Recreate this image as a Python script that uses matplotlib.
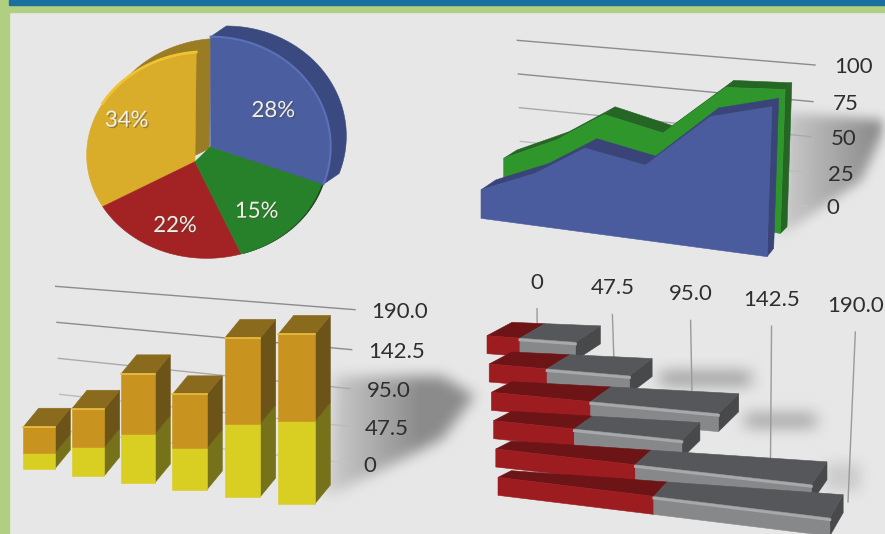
import numpy as np
import matplotlib
matplotlib.use("Agg")
import matplotlib.pyplot as plt
import matplotlib.patheffects as pe
from matplotlib.path import Path
from matplotlib.transforms import Affine2D

plt.rcParams["font.family"] = ["Lato", "DejaVu Sans"]

W, H = 885, 534

# data
pie_labels = ["34%", "22%", "15%", "28%"]
pie_values = [34, 22, 15, 28]
area_x = [0, 0.95, 1.80, 2.85, 3.95, 5]
area_blue = [19, 35, 56, 50, 88, 100]
area_green = [20, 38, 60, 54, 91, 96]
area_ticks = ["0", "25", "50", "75", "100"]
col_yellow = [20, 35, 58, 48, 82, 90]
col_orange = [33, 47, 72, 62, 96, 95]
bar_red = [19, 33, 56, 45, 77, 85]
bar_grey = [32, 47, 72, 60, 97, 96]
stack_ticks = ["0", "47.5", "95.0", "142.5", "190.0"]

fig = plt.figure(figsize=(W / 100, H / 100), dpi=100)
ax = fig.add_axes([0, 0, 1, 1])


def soft_polygon(pts, blur):
    # polygon mask on the pixel grid, box blurred three times
    yy, xx = np.mgrid[0:H, 0:W]
    grid = np.column_stack([xx.ravel(), yy.ravel()])
    mask = Path(pts).contains_points(grid).reshape(H, W).astype(float)
    kernel = np.ones(blur) / blur
    for _ in range(3):
        mask = np.apply_along_axis(lambda r: np.convolve(r, kernel, "same"), 1, mask)
        mask = np.apply_along_axis(lambda r: np.convolve(r, kernel, "same"), 0, mask)
    return mask


# background with the soft shadows baked in
xramp = np.arange(W)[None, :]
ramp1 = np.clip((xramp - 740) / 130, 0.35, 1)
ramp2 = np.clip((xramp - 290) / 130, 0.35, 1)
shade = 0.38 * ramp1 * soft_polygon([(785, 112), (888, 120), (860, 180), (780, 235)], 11)
shade += 0.40 * ramp2 * soft_polygon([(333, 375), (442, 376), (474, 395), (442, 438), (325, 497)], 13)
shade += 0.42 * soft_polygon([(660, 372), (750, 372), (750, 383), (660, 383)], 15)
shade += 0.38 * soft_polygon([(745, 414), (815, 414), (815, 425), (745, 425)], 15)
shade += 0.12 * soft_polygon([(825, 462), (860, 462), (860, 490), (825, 490)], 13)
bg = 0.905 * (1 - shade)
ax.imshow(bg, cmap="gray", vmin=0, vmax=1, extent=(0, W, H, 0), aspect="auto", zorder=0)
ax.fill([0, 9, 9, 0], [0, 0, H, H], color="#b0cf80", zorder=1)
ax.fill([9, W, W, 9], [0, 0, 12, 12], color="#b0cf80", zorder=1)
ax.fill([9, W, W, 9], [0, 0, 4.5, 4.5], color="#1b6f9e", zorder=1)

# each panel is drawn in its own 3x coordinates
tl = Affine2D().scale(1 / 3) + ax.transData
tr = Affine2D().scale(1 / 3).translate(442, 0) + ax.transData
bl = Affine2D().scale(1 / 3).translate(0, 267) + ax.transData
br = Affine2D().scale(1 / 3).translate(442, 267) + ax.transData


def poly(pts, color, tf, z=3):
    pts = np.asarray(pts)
    ax.fill(pts[:, 0], pts[:, 1], color=color, transform=tf, zorder=z, lw=0.4)


def tick(x, y, s, tf, **kw):
    ax.text(x, y, s, transform=tf, fontsize=16, color="#2e2e2e", va="center", zorder=6, **kw)


# pie
CX, CY, RX, RY = 620, 465, 360, 310
APEX = np.array([585, 485])


def arc(t0, t1, cx=CX, cy=CY, rx=RX, ry=RY):
    t = np.radians(np.linspace(t0, t1, 60))
    return np.column_stack([cx + rx * np.sin(t), cy - ry * np.cos(t)])


def wedge_pts(t0, t1):
    return np.vstack([APEX, arc(t0, t1)])


# slices are foreshortened by the tilt of the pie
tilt = np.array([0.93, 0.96, 1.06, 1.06])
shares = 360 * np.array(pie_values) / sum(pie_values) * tilt
t_end = -5 - np.cumsum(shares)
t_start = np.r_[-5, t_end[:-1]]
b_apex = np.array([632, 440])

# yellow back wall, then the front faces
pd = np.array([44, -40])
poly(wedge_pts(t_start[0], t_end[0]) + pd, "#9a7c24", tl)
poly(wedge_pts(t_start[0], t_end[0]), "#d9ac2a", tl, 4)
y_arc = arc(t_start[0], t_start[0] - 55)
ax.plot(y_arc[:, 0], y_arc[:, 1], color="#eec433", lw=2, transform=tl, zorder=4)
poly(wedge_pts(t_start[1], t_end[1]), "#a32224", tl, 4)
poly(arc(t_start[2], t_end[2]) + [5, -1], "#173a17", tl, 3)
poly(np.vstack([wedge_pts(t_start[2], t_end[2]), b_apex]), "#27812a", tl, 4)

# blue slice is pulled out and extruded
b_arc = arc(0, shares[3] + 2, 632, 440, 360, 330)
b_face = np.vstack([b_apex, b_arc])
side = np.vstack([b_arc, (b_arc + [47, -32])[::-1]])
poly(side, "#3a4a80", tl, 5)
poly(b_face, "#4a5ea0", tl, 5)
ax.plot(b_arc[:, 0], b_arc[:, 1], color="#5b70b8", lw=1.5, transform=tl, zorder=5)

label_pos = [(380, 362), (525, 678), (770, 635), (820, 333)]
for s, (lx, ly) in zip(pie_labels, label_pos):
    ax.text(lx, ly, s, transform=tl, fontsize=16, color="#f2efe6", ha="center", va="center", zorder=7,
            path_effects=[pe.withSimplePatchShadow(offset=(1, -1), alpha=0.45)])

# stacked area, top right
for i, s in enumerate(area_ticks):
    y_r = [618, 518, 410, 305, 195][i]
    x_r = 1095 + 6 * i
    grid_c = ["#c4c4c4", "#bcbcbc", "#aaaaaa", "#8c8c8c", "#8c8c8c"][i]
    ax.plot([238 - 3 * i, x_r], [525 - 101 * i, y_r], color=grid_c, lw=1, transform=tr, zorder=2)
    tick(x_r + 58, y_r + 7, s, tr)


def area_layer(vals, x0, y0, length, slope, d0, d1, face, dark):
    t = np.array(area_x) / 5
    v = np.array(vals)
    bx = x0 + t * length
    by = y0 + t * length * slope
    tx = bx + 15 * t * v / 100
    ty = by - 4.5 * v
    dx = d0[0] + (d1[0] - d0[0]) * t
    dy = d0[1] + (d1[1] - d0[1]) * t
    # top surface segment by segment
    for i in range(len(t) - 1):
        poly([(tx[i], ty[i]), (tx[i + 1], ty[i + 1]),
              (tx[i + 1] + dx[i + 1], ty[i + 1] + dy[i + 1]), (tx[i] + dx[i], ty[i] + dy[i])], dark, tr)
    # right end
    poly([(bx[-1], by[-1]), (tx[-1], ty[-1]), (tx[-1] + dx[-1], ty[-1] + dy[-1]),
          (bx[-1] + dx[-1], by[-1] + dy[-1])], dark, tr)
    poly(np.vstack([np.column_stack([tx, ty]), [bx[-1], by[-1]], [bx[0], by[0]]]), face, tr)


area_layer(area_green, 185, 565, 830, 0.163, (40, -25), (20, -20), "#2f962c", "#256625")
area_layer(area_blue, 117, 655, 858, 0.134, (45, -30), (20, -25), "#4a5c9e", "#3a4478")

# stacked columns, bottom left
for i, s in enumerate(stack_ticks):
    y_r = [588, 478, 365, 248, 128][i]
    x_r = 1040 + [0, 5, 10, 15, 25][i]
    grid_c = ["#c4c4c4", "#bcbcbc", "#aaaaaa", "#8c8c8c", "#8c8c8c"][i]
    ax.plot([183 - 4 * i, x_r], [490 - 108 * i, y_r], color=grid_c, lw=1, transform=bl, zorder=2)
    tick(x_r + 50, y_r + 8, s, bl)

for i in range(len(col_yellow)):
    x = 70 + 145 * i + 2 * i * (i - 1)
    y = 605 + 21 * i
    w = 95 + 3 * i
    k = 2.75 * (0.86 + 0.028 * i)
    h1 = col_yellow[i] * k
    h2 = (col_yellow[i] + col_orange[i]) * k
    dx, dy = 46, -56
    z = 3 + i * 0.01
    poly([(x + w, y), (x + w + dx, y + dy), (x + w + dx, y - h1 + dy), (x + w, y - h1)], "#76721a", bl, z)
    poly([(x + w, y - h1), (x + w + dx, y - h1 + dy), (x + w + dx, y - h2 + dy), (x + w, y - h2)], "#6c5318", bl, z)
    poly([(x, y - h2), (x + w, y - h2), (x + w + dx, y - h2 + dy), (x + dx, y - h2 + dy)], "#8a6a1c", bl, z)
    poly([(x, y), (x + w, y), (x + w, y - h1), (x, y - h1)], "#d8cf22", bl, z)
    poly([(x, y - h1), (x + w, y - h1), (x + w, y - h2), (x, y - h2)], "#c9931f", bl, z)
    ax.plot([x, x + w], [y - h2, y - h2], color="#ecc040", lw=1.2, transform=bl, zorder=z)

# stacked bars, bottom right
for i, s in enumerate(stack_ticks):
    f = i / 4
    top_x = 285 + 888 * f + 67 * f ** 2
    ax.plot([top_x, 287 + 931 * f], [125 + 70 * f, 300 + 405 * f], color="#9a9a9a", lw=1, transform=br, zorder=2)
    ax.text(top_x, 47 + 70 * f, s, transform=br, fontsize=16, color="#2e2e2e",
            ha="center", va="center", zorder=6)

for r in range(len(bar_red)):
    x0 = 135 + 6.6 * r
    y0 = 260 + 85 * r
    hgt = 54
    slope = 0.075 + 0.0095 * r
    k = 5.2 + 0.06 * r
    dx = 75 - 7 * r
    x1 = x0 + bar_red[r] * k
    x2 = x1 + bar_grey[r] * k
    y1 = y0 + (x1 - x0) * slope
    y2 = y0 + (x2 - x0) * slope
    # depth opens up towards the far end of a bar
    dy0 = -(40 - 4 * r)
    dy1 = dy0 - (0.035 + 0.003 * r) * (x1 - x0)
    dy2 = dy0 - (0.035 + 0.003 * r) * (x2 - x0)
    z = 3 + r * 0.01
    poly([(x2, y2), (x2 + dx, y2 + dy2), (x2 + dx, y2 + dy2 - hgt), (x2, y2 - hgt)], "#48494b", br, z)
    poly([(x0, y0 - hgt), (x1, y1 - hgt), (x1 + dx, y1 - hgt + dy1), (x0 + dx, y0 - hgt + dy0)], "#6c1416", br, z)
    poly([(x1, y1 - hgt), (x2, y2 - hgt), (x2 + dx, y2 - hgt + dy2), (x1 + dx, y1 - hgt + dy1)], "#55575a", br, z)
    poly([(x0, y0), (x1, y1), (x1, y1 - hgt), (x0, y0 - hgt)], "#9c1c20", br, z)
    poly([(x1, y1), (x2, y2), (x2, y2 - hgt), (x1, y1 - hgt)], "#87888a", br, z)
    ax.plot([x1, x2], [y1 - hgt + 5, y2 - hgt + 5], color="#a8a9ab", lw=2, transform=br, zorder=z)

ax.set_xlim(0, W)
ax.set_ylim(H, 0)
ax.axis("off")
fig.savefig("out.png", dpi=100)
plt.close()
